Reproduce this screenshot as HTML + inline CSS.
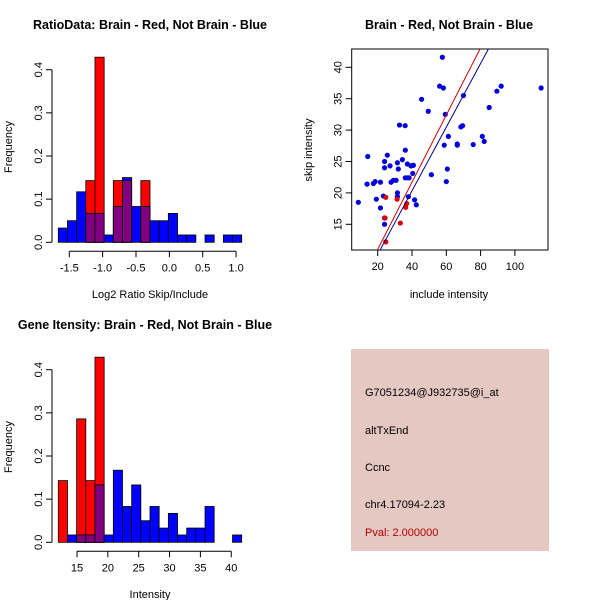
<!DOCTYPE html>
<html><head><meta charset="utf-8"><style>
html,body{margin:0;padding:0;background:#fff}
svg{display:block;font-family:"Liberation Sans",sans-serif}
</style></head><body>
<svg id="s" width="600" height="600" viewBox="0 0 600 600">
<rect width="600" height="600" fill="#fff"/>
<text x="150" y="29" text-anchor="middle" font-size="12.5" font-weight="bold">RatioData: Brain - Red, Not Brain - Blue</text>
<text x="449" y="29" text-anchor="middle" font-size="12.5" font-weight="bold">Brain - Red, Not Brain - Blue</text>
<text x="145" y="329" text-anchor="middle" font-size="12.5" font-weight="bold">Gene Itensity: Brain - Red, Not Brain - Blue</text>
<text x="150" y="298" text-anchor="middle" font-size="11">Log2 Ratio Skip/Include</text>
<text x="150" y="598" text-anchor="middle" font-size="11">Intensity</text>
<text x="449" y="298" text-anchor="middle" font-size="11">include intensity</text>
<text transform="translate(12,147) rotate(-90)" text-anchor="middle" font-size="11">Frequency</text>
<text transform="translate(12,447) rotate(-90)" text-anchor="middle" font-size="11">Frequency</text>
<text transform="translate(312,150) rotate(-90)" text-anchor="middle" font-size="11">skip intensity</text>
<g>
<rect x="351" y="349" width="198" height="202" fill="#e5c8c1"/>
<text x="365" y="396" font-size="11">G7051234@J932735@i_at</text>
<text x="365" y="434" font-size="11">altTxEnd</text>
<text x="365" y="471" font-size="11">Ccnc</text>
<text x="365" y="508" font-size="11">chr4.17094-2.23</text>
<text x="365" y="536" font-size="11" fill="#b00000">Pval: 2.000000</text>
</g>
<g id="g"></g>
</svg>
<script>
// Ratio histogram data (frequency per bin)
const ratioBlue=[0.033,0.05,0.117,0.067,0.067,0.017,0.083,0.15,0.083,0.083,0.05,0.05,0.067,0.017,0.017,0,0.017,0,0.017,0.017];
const ratioRed=[0,0,0,0.143,0.429,0,0.143,0.143,0,0.143,0,0,0,0,0,0,0,0,0,0];
const ratioTicks=[-1.5,-1.0,-0.5,0.0,0.5,1.0];
// Intensity histogram data
const geneBlue=[0,0.017,0.017,0.017,0.133,0.017,0.167,0.083,0.133,0.05,0.083,0.033,0.067,0.017,0.033,0.033,0.083,0,0,0.017];
const geneRed=[0.143,0,0.286,0.143,0.429,0,0,0,0,0,0,0,0,0,0,0,0,0,0,0];
const geneTicks=[15,20,25,30,35,40];
const freqTicks=[0.0,0.1,0.2,0.3,0.4];
// Scatter data
const blueX=[8.7,14.2,13.8,17.5,18.5,19.2,21.6,21.6,23.3,24,24,24,24,25.6,27.2,27.8,29.1,30.7,31.5,31.5,31.5,32,32.7,34.4,36,36.1,36.1,37.5,37.3,38.3,37.9,39.4,40.8,40.4,41.5,42.5,45.6,49.5,51.3,56.1,57.7,58.3,58.8,59.4,60,60.6,61.2,66.4,66.4,68.5,69.5,70,75.7,81,82.1,85,89.5,92,115.3];
const blueY=[18.5,25.8,21.4,21.5,21.8,19.0,21.7,17.6,19.5,25,24,16,15,26,24.3,21.7,22,22,24.8,20,19.4,23.8,30.8,25.3,30.7,26.8,22.4,22.4,24.6,22.4,19.4,24.3,24.4,23.1,18.9,18.1,34.9,33,22.9,37,41.6,36.7,27.6,32.5,21.8,23.8,29,27.8,27.6,30.5,30.7,35.5,27.7,29,28.2,33.6,36.2,37,36.7];
const redX=[24.7,31.3,33.2,36.3,36.9,24.7,24.3];
const redY=[19.3,19,15.2,17.7,18.3,12.2,16];
const scatterXTicks=[20,40,60,80,100];
const scatterYTicks=[15,20,25,30,35,40];
const redFit=[0.30,0.535], blueFit=[0.05,0.507];

const NS="http://www.w3.org/2000/svg", G=document.getElementById('g');
function mk(t,a,p){const e=document.createElementNS(NS,t);for(const k in a)e.setAttribute(k,a[k]);(p||G).appendChild(e);return e;}

function hist(blue,red,ticks,y0,tx0,tv0,tpx,name){
  const x0=58.3,bw=9.17,yb=y0,ys=431.5;
  const fy=v=>yb-v*ys, fx=v=>tx0+(v-tv0)*tpx;
  for(let i=0;i<blue.length;i++){
    const xl=x0+i*bw;
    if(red[i]>0){const r=mk('rect',{x:xl,y:fy(red[i]),width:bw,height:red[i]*ys,fill:'#ff0000',stroke:'#000','stroke-width':0.8});
      
      }
    if(blue[i]>0){const b=mk('rect',{x:xl,y:fy(blue[i]),width:bw,height:blue[i]*ys,fill:'#0000ff',stroke:'#000','stroke-width':0.8});
      
      }
    const m=Math.min(red[i],blue[i]);
    if(m>0){const p=mk('rect',{x:xl,y:fy(m),width:bw,height:m*ys,fill:'#800080',stroke:'#000','stroke-width':0.8});
      
      }
  }
  mk('line',{x1:52,y1:fy(0),x2:52,y2:fy(0.4),stroke:'#000'});
  freqTicks.forEach(v=>{mk('line',{x1:46,y1:fy(v),x2:52,y2:fy(v),stroke:'#000'});
    const t=mk('text',{transform:`translate(42,${fy(v)}) rotate(-90)`,'text-anchor':'middle','font-size':11});t.textContent=v.toFixed(1);});
  const ya=yb+9;
  mk('line',{x1:fx(ticks[0]),y1:ya,x2:fx(ticks[ticks.length-1]),y2:ya,stroke:'#000'});
  ticks.forEach(v=>{mk('line',{x1:fx(v),y1:ya,x2:fx(v),y2:ya+6,stroke:'#000'});
    const t=mk('text',{x:fx(v),y:ya+20,'text-anchor':'middle','font-size':11});t.textContent=(Number.isInteger(v)&&Math.abs(v)>=2)?v:v.toFixed(1);});
}
hist(ratioBlue,ratioRed,ratioTicks,242.3,69.3,-1.5,66.7,'ratio');
hist(geneBlue,geneRed,geneTicks,542.3,77,15,6.17,'gene');

const L=351.7,T=49,R=548,B=250;
const sx=v=>377.7+(v-20)*1.715, sy=v=>67.3-(v-40)*6.28;
const cp=mk('clipPath',{id:'cp'});mk('rect',{x:L,y:T,width:R-L,height:B-T},cp);
mk('rect',{x:L,y:T,width:R-L,height:B-T,fill:'none',stroke:'#000'});
blueX.forEach((v,i)=>{const c=mk('circle',{cx:sx(v),cy:sy(blueY[i]),r:2.6,fill:'#0000dd'});
  
  });
redX.forEach((v,i)=>{const c=mk('circle',{cx:sx(v),cy:sy(redY[i]),r:2.6,fill:'#dd0000'});
  
  });
[[redFit,'#cc0000','red-fit-line'],[blueFit,'#00008b','blue-fit-line']].forEach(([f,c,n])=>{
  const l=mk('line',{x1:sx(0),y1:sy(f[0]),x2:sx(120),y2:sy(f[0]+f[1]*120),stroke:c,'stroke-width':1,'clip-path':'url(#cp)'});
  
  });
scatterXTicks.forEach(v=>{mk('line',{x1:sx(v),y1:B,x2:sx(v),y2:B+6,stroke:'#000'});
  const t=mk('text',{x:sx(v),y:B+20,'text-anchor':'middle','font-size':11});t.textContent=v;});
scatterYTicks.forEach(v=>{mk('line',{x1:L-6,y1:sy(v),x2:L,y2:sy(v),stroke:'#000'});
  const t=mk('text',{transform:`translate(${L-10},${sy(v)}) rotate(-90)`,'text-anchor':'middle','font-size':11});t.textContent=v;});
</script>
</body></html>
